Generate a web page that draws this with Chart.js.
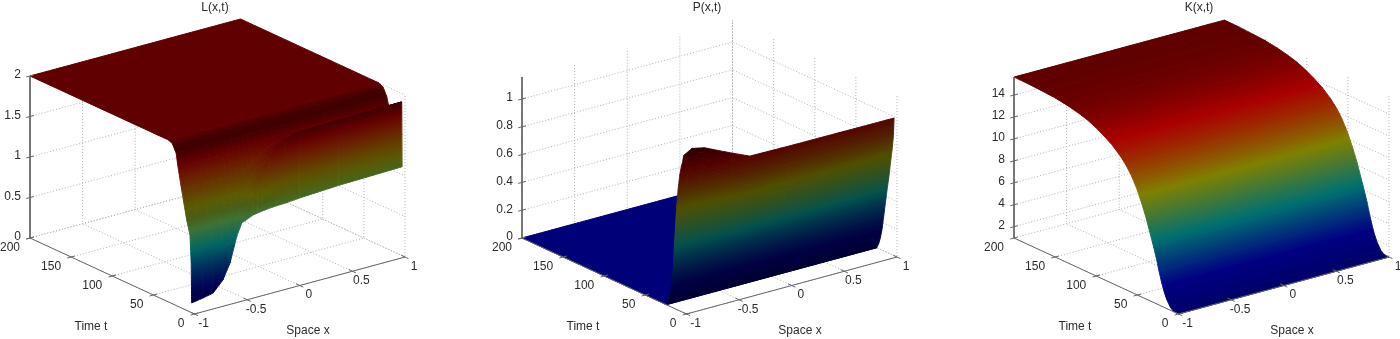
<!DOCTYPE html>
<html>
<head>
<meta charset="utf-8">
<title>L, P, K surfaces</title>
<script src="https://cdn.jsdelivr.net/npm/chart.js@4"></script>
<style>
html, body { margin: 0; padding: 0; background: #fff; overflow: hidden; width: 1400px; height: 339px; }
.panel { position: absolute; top: 0; width: 430px; height: 339px; }
</style>
</head>
<body>
<div class="panel" style="left:0"><canvas id="chartL"></canvas></div>
<div class="panel" style="left:492px"><canvas id="chartP"></canvas></div>
<div class="panel" style="left:984px"><canvas id="chartK"></canvas></div>
<script>
const spaceTicks = [-1, -0.5, 0, 0.5, 1];
const timeTicks = [0, 50, 100, 150, 200];
const lZTicks = [0, 0.5, 1, 1.5, 2];
const pZTicks = [0, 0.2, 0.4, 0.6, 0.8, 1];
const kZTicks = [2, 4, 6, 8, 10, 12, 14];

// L(x,t): one row per time, one column per space value
const lSpace = [-1, -0.892, -0.797, -0.702, -0.635, -0.572, -0.524, -0.477, -0.417, -0.37, -0.322, -0.26, -0.191, -0.1, 0.03, 0.4, 1];
const lTime = [3.5, 4, 5.5, 9.5, 15.6, 20, 22.3, 26.7, 32, 200];
const lValues = [
    [0.12, 0.143, 0.17, 0.3, 0.485, 0.788, 0.94, 0.965, 1.0, 1.01, 1.02, 1.03, 1.035, 1.04, 1.055, 1.08, 1.098],
    [0.61, 0.62, 0.64, 0.68, 0.74, 0.85, 0.94, 1.047, 1.31, 1.44, 1.56, 1.67, 1.764, 1.82, 1.865, 1.88, 1.895],
    [0.95, 0.95, 0.96, 0.97, 0.98, 0.99, 1.0, 1.08, 1.31, 1.44, 1.56, 1.67, 1.76, 1.81, 1.85, 1.87, 1.885],
    [1.117, 1.117, 1.12, 1.12, 1.125, 1.13, 1.14, 1.18, 1.32, 1.44, 1.55, 1.65, 1.73, 1.78, 1.82, 1.84, 1.85],
    [1.46, 1.46, 1.46, 1.46, 1.46, 1.46, 1.47, 1.48, 1.5, 1.52, 1.56, 1.63, 1.69, 1.74, 1.77, 1.79, 1.8],
    [1.72, 1.72, 1.72, 1.72, 1.72, 1.72, 1.72, 1.72, 1.72, 1.73, 1.74, 1.75, 1.76, 1.77, 1.78, 1.78, 1.78],
    [1.88, 1.88, 1.88, 1.88, 1.88, 1.88, 1.88, 1.88, 1.88, 1.88, 1.88, 1.88, 1.88, 1.88, 1.88, 1.88, 1.88],
    [1.975, 1.975, 1.975, 1.975, 1.975, 1.975, 1.975, 1.975, 1.975, 1.975, 1.975, 1.975, 1.975, 1.975, 1.975, 1.975, 1.975],
    [2, 2, 2, 2, 2, 2, 2, 2, 2, 2, 2, 2, 2, 2, 2, 2, 2],
    [2, 2, 2, 2, 2, 2, 2, 2, 2, 2, 2, 2, 2, 2, 2, 2, 2],
];

// P(x,t)
const pSpace = [-1, -0.92, -0.8, -0.66, -0.53, -0.37, 0, 1];
const pTime = [3.6, 4, 4.5, 6, 8, 10, 12, 14, 16, 18, 20, 22, 24.5, 200];
const pValues = [
    [1.13, 1.165, 1.145, 1.095, 1.05, 0.997, 0.993, 0.99],
    [1.107, 1.136, 1.105, 1.046, 0.992, 0.935, 0.926, 0.921],
    [1.085, 1.107, 1.065, 0.996, 0.935, 0.872, 0.859, 0.851],
    [1.051, 1.064, 1.006, 0.925, 0.852, 0.783, 0.764, 0.752],
    [0.983, 0.989, 0.924, 0.838, 0.759, 0.69, 0.666, 0.653],
    [0.881, 0.882, 0.814, 0.728, 0.65, 0.583, 0.558, 0.545],
    [0.735, 0.735, 0.679, 0.608, 0.543, 0.488, 0.467, 0.455],
    [0.531, 0.535, 0.5, 0.454, 0.413, 0.376, 0.363, 0.356],
    [0.294, 0.303, 0.298, 0.285, 0.273, 0.259, 0.258, 0.257],
    [0.158, 0.165, 0.167, 0.164, 0.16, 0.158, 0.158, 0.158],
    [0.09, 0.094, 0.095, 0.093, 0.09, 0.089, 0.089, 0.089],
    [0.034, 0.037, 0.038, 0.038, 0.037, 0.038, 0.039, 0.04],
    [0, 0, 0, 0, 0, 0, 0, 0],
    [0, 0, 0, 0, 0, 0, 0, 0],
];

// K(x,t) hardly moves along x
const kSpace = [-1, 1];
const kTime = [0, 3, 6.3, 10, 14.3, 17.5, 20.4, 23.5, 26.5, 30.5, 34.6, 39.5, 44.7, 50.5, 56.9, 63.5, 71.1, 81, 91.4, 101, 111.6, 123, 136, 150, 164.4, 182, 200];
const kValues = [
    [0.97, 0.97], [0.98, 0.98], [1, 1], [1.25, 1.25], [1.8, 1.8], [2.4, 2.4], [3.1, 3.1], [4, 4], [5, 5],
    [6.1, 6.1], [7.15, 7.15], [8.4, 8.4], [9.5, 9.5], [10.6, 10.6], [11.55, 11.55], [12.3, 12.3], [12.95, 12.95],
    [13.6, 13.6], [14.1, 14.1], [14.5, 14.5], [14.85, 14.85], [15.1, 15.1], [15.32, 15.32], [15.47, 15.47],
    [15.55, 15.55], [15.62, 15.62], [15.64, 15.64],
];

const fontName = "'Liberation Sans', Arial, sans-serif";
const textColor = '#2b2b2b';
const axisColor = '#666666';
const gridColor = '#b0b0b0';

// box corners in panel pixels (orthographic view, so a plain affine map)
const view = { ox: 194.5, oy: 314, xdx: 105.25, xdy: -28.5, tdx: -0.8225, tdy: -0.38 };

// darkened jet, as in the picture
const jetStops = [
    [0, [0, 0, 120]],
    [0.125, [0, 0, 130]],
    [0.375, [0, 112, 112]],
    [0.625, [128, 128, 0]],
    [0.875, [170, 0, 0]],
    [1, [96, 0, 0]],
];

// lighting on the sloped faces, by colour level; level faces stay at 1
const lShade = [[0, 0.55], [0.1, 0.6], [0.375, 0.9], [0.5, 0.95], [0.56, 0.75], [0.625, 0.72], [0.8, 0.68], [0.95, 0.5], [0.985, 0.65], [1, 1]];
const pShade = [[0, 0.42], [0.4, 0.72], [0.62, 0.62], [0.85, 0.5], [1, 0.45]];
const kShade = [[0, 0.9], [0.125, 1], [1, 1]];

function lookup(stops, f) {
    let i = 0;
    while (i < stops.length - 2 && f > stops[i + 1][0]) i++;
    return [stops[i], stops[i + 1], (f - stops[i][0]) / (stops[i + 1][0] - stops[i][0])];
}

function jet(f, shadeStops) {
    f = Math.max(0, Math.min(1, f));
    const [a, b, u] = lookup(jetStops, f);
    let shade = 1;
    if (shadeStops) {
        const [sa, sb, su] = lookup(shadeStops, f);
        shade = sa[1] + (sb[1] - sa[1]) * su;
    }
    const rgb = a[1].map((c, k) => Math.min(255, Math.round((c + (b[1][k] - c) * u) * shade)));
    return `rgb(${rgb[0]},${rgb[1]},${rgb[2]})`;
}

function makeProjector(zBase, zScale) {
    return (x, t, z) => ({
        x: view.ox + (x + 1) * view.xdx + t * view.tdx,
        y: view.oy + (x + 1) * view.xdy + t * view.tdy - (z - zBase) * zScale,
    });
}

// one quad as a filled shape, gradient fitted to how z runs across it
function cellPaint(chart, pts, zs, zMin, zMax, shadeStops) {
    const sx = chart.scales.x, sy = chart.scales.y;
    const px = pts.map(p => sx.getPixelForValue(p.x));
    const py = pts.map(p => sy.getPixelForValue(p.y));
    const mx = px.reduce((a, b) => a + b) / 4;
    const my = py.reduce((a, b) => a + b) / 4;
    const mz = zs.reduce((a, b) => a + b) / 4;
    const norm = z => (z - zMin) / (zMax - zMin);
    const lo = Math.min(...zs), hi = Math.max(...zs);
    if (hi - lo < 1e-6) return jet(norm(mz));
    if (!isFinite(mx) || !isFinite(my)) return jet(norm(mz), shadeStops); // scales not laid out yet
    let sxx = 0, syy = 0, sxy = 0, sxz = 0, syz = 0;
    for (let i = 0; i < 4; i++) {
        const dx = px[i] - mx, dy = py[i] - my, dz = zs[i] - mz;
        sxx += dx * dx; syy += dy * dy; sxy += dx * dy; sxz += dx * dz; syz += dy * dz;
    }
    const det = sxx * syy - sxy * sxy;
    if (Math.abs(det) < 1e-6) return jet(norm(mz), shadeStops);
    const gx = (sxz * syy - syz * sxy) / det;
    const gy = (syz * sxx - sxz * sxy) / det;
    const g2 = gx * gx + gy * gy;
    if (g2 < 1e-12) return jet(norm(mz), shadeStops);
    const grad = chart.ctx.createLinearGradient(
        mx + (lo - mz) * gx / g2, my + (lo - mz) * gy / g2,
        mx + (hi - mz) * gx / g2, my + (hi - mz) * gy / g2
    );
    const steps = 6;
    for (let i = 0; i <= steps; i++) {
        grad.addColorStop(i / steps, jet(norm(lo + (hi - lo) * i / steps), shadeStops));
    }
    return grad;
}

function segment(points, color, width, dash) {
    return {
        data: points, showLine: true, fill: false, pointRadius: 0, borderColor: color,
        borderWidth: width, borderDash: dash || [], indexAxis: 'y', clip: false,
    };
}

function surfaceDatasets(space, time, values, project, zMin, zMax, shadeStops) {
    const list = [];
    const addCell = (i0, i1, j) => {
        const zs = [values[j][i0], values[j][i1], values[j + 1][i1], values[j + 1][i0]];
        const pts = [
            project(space[i0], time[j], zs[0]), project(space[i1], time[j], zs[1]),
            project(space[i1], time[j + 1], zs[2]), project(space[i0], time[j + 1], zs[3]),
        ];
        const paint = ctx => cellPaint(ctx.chart, pts, zs, zMin, zMax, shadeStops);
        list.push({
            data: [...pts, pts[0]], showLine: true, fill: 'shape', indexAxis: 'y', tension: 0.0001,
            pointRadius: 0, borderWidth: 1, backgroundColor: paint, borderColor: paint, clip: false,
        });
    };
    // far rows first, painter style
    for (let j = time.length - 2; j >= 0; j--) {
        const rowIsLevelAcross = values[j].every(v => v === values[j][0]) && values[j + 1].every(v => v === values[j + 1][0]);
        if (rowIsLevelAcross) {
            addCell(0, space.length - 1, j);
            continue;
        }
        for (let i = space.length - 2; i >= 0; i--) addCell(i, i + 1, j);
    }
    return list;
}

function gridDatasets(project, zTicks, zMin, zMax) {
    const list = [];
    const dotted = [1, 2];
    zTicks.forEach(z => {
        list.push(segment([project(-1, 200, z), project(1, 200, z), project(1, 0, z)], gridColor, 1, dotted));
    });
    spaceTicks.forEach(x => {
        list.push(segment([project(x, 0, zMin), project(x, 200, zMin), project(x, 200, zMax)], gridColor, 1, dotted));
    });
    timeTicks.forEach(t => {
        list.push(segment([project(-1, t, zMin), project(1, t, zMin), project(1, t, zMax)], gridColor, 1, dotted));
    });
    return list;
}

function axisDatasets(project, zTicks, zMin, zMax) {
    const list = [
        segment([project(-1, 200, zMax), project(-1, 200, zMin), project(-1, 0, zMin), project(1, 0, zMin)], axisColor, 1),
    ];
    spaceTicks.forEach(x => {
        const a = project(x, 0, zMin), b = project(x, 0, zMin);
        b.x += 3.6; b.y += 1.7;
        a.x -= 3.6; a.y -= 1.7;
        list.push(segment([a, b], axisColor, 1));
    });
    timeTicks.forEach(t => {
        const a = project(-1, t, zMin), b = project(-1, t, zMin);
        b.x -= 3.8; b.y += 1;
        a.x += 3.8; a.y -= 1;
        list.push(segment([a, b], axisColor, 1));
    });
    zTicks.forEach(z => {
        const a = project(-1, 200, z), b = project(-1, 200, z);
        a.x -= 3.8; a.y += 1;
        b.x += 3.8; b.y -= 1;
        list.push(segment([a, b], axisColor, 1));
    });
    return list;
}

const tickText = {
    id: 'tickText',
    afterDraw(chart, _args, opts) {
        const { project, zTicks, zMin } = opts;
        const sx = chart.scales.x, sy = chart.scales.y;
        const c = chart.ctx;
        const put = (txt, x, y, align) => {
            c.textAlign = align;
            c.fillText(txt, sx.getPixelForValue(x), sy.getPixelForValue(y));
        };
        c.save();
        c.fillStyle = textColor;
        c.font = '12px ' + fontName;
        c.textBaseline = 'middle';
        zTicks.forEach(z => {
            const p = project(-1, 200, z);
            put(String(z), p.x - 9, p.y - 1, 'right');
        });
        timeTicks.forEach(t => {
            const p = project(-1, t, zMin);
            put(String(t), p.x - 10, p.y + 10, 'right');
        });
        spaceTicks.forEach(x => {
            const p = project(x, 0, zMin);
            put(String(x), p.x + 9, p.y + 9.5, 'center');
        });
        put('Time t', 91, 327, 'center');
        put('Space x', 308, 331, 'center');
        c.restore();
    },
};

function drawPanel(id, name, space, time, values, zTicks, zMin, zMax, zBase, zScale, shadeStops) {
    const project = makeProjector(zBase, zScale);
    // Chart.js paints low indexes on top, so reverse the back-to-front list
    const datasets = [
        ...gridDatasets(project, zTicks, zMin, zMax),
        ...surfaceDatasets(space, time, values, project, zMin, zMax, shadeStops),
        ...axisDatasets(project, zTicks, zMin, zMax),
    ].reverse();
    new Chart(document.getElementById(id), {
        type: 'scatter',
        data: { datasets },
        options: {
            responsive: true,
            maintainAspectRatio: false,
            animation: false,
            layout: { padding: 0 },
            plugins: {
                legend: { display: false },
                tooltip: { enabled: false },
                title: {
                    display: true, text: name, color: textColor,
                    font: { family: fontName, size: 12, weight: 'normal' }, padding: 0,
                },
                tickText: { project, zTicks, zMin },
            },
            scales: {
                x: { type: 'linear', display: false, min: 0, max: 430 },
                y: { type: 'linear', display: false, min: 14.4, max: 339, reverse: true },
            },
        },
        plugins: [tickText],
    });
}

drawPanel('chartL', 'L(x,t)', lSpace, lTime, lValues, lZTicks, 0, 2, 0, 81, lShade);
drawPanel('chartP', 'P(x,t)', pSpace, pTime, pValues, pZTicks, 0, 1.158, 0, 139, pShade);
drawPanel('chartK', 'K(x,t)', kSpace, kTime, kValues, kZTicks, 0.97, 15.64, 0.97, 10.97, kShade);
</script>
</body>
</html>
